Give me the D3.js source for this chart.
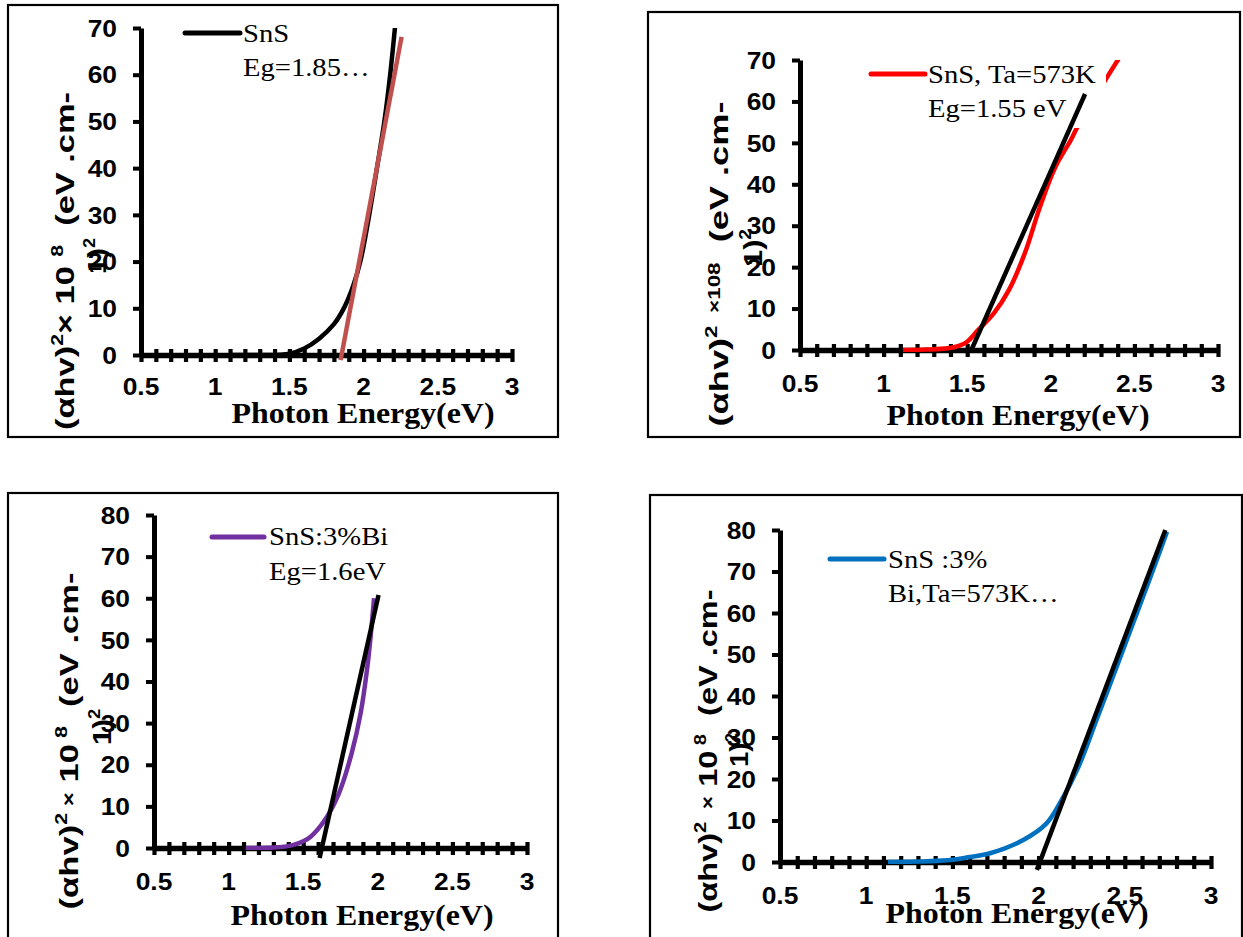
<!DOCTYPE html>
<html>
<head>
<meta charset="utf-8">
<script src="https://cdn.jsdelivr.net/npm/d3@7"></script>
<style>
  body { margin: 0; background: #fff; }
  svg { display: block; }
  text { white-space: pre; }
</style>
</head>
<body>
<svg id="chart" width="1243" height="937"></svg>
<script>
// ---- Tauc plots: (αhν)² ×10⁸ versus photon energy ----

// axis ticks
const energyTicks = [0.5, 1, 1.5, 2, 2.5, 3];
const energyMinorTicks = d3.range(5, 31).map(d => d / 10);
const alphaTicks70 = [0, 10, 20, 30, 40, 50, 60, 70];
const alphaTicks80 = [0, 10, 20, 30, 40, 50, 60, 70, 80];

// SnS as deposited
const snsEnergy = [1.1, 1.3, 1.5, 1.6, 1.7, 1.8, 1.87, 1.93, 1.98, 2.032, 2.088, 2.14, 2.178, 2.212];
const snsAlpha  = [0, 0, 0.3, 1.4, 3.5, 6.6, 10.2, 14.8, 20.3, 28.9, 39.6, 50, 59.7, 70.3];
const snsFitEnergy = [1.845, 2.256];
const snsFitAlpha  = [-1.1, 68.1];

// SnS annealed at 573 K
const snsTaEnergy = [1.116, 1.25, 1.385, 1.45, 1.5, 1.565, 1.66, 1.75, 1.845, 1.935, 2.025, 2.12, 2.155, 2.24, 2.327, 2.42];
const snsTaAlpha  = [0, 0.1, 0.4, 1, 2, 4.8, 8.9, 14.5, 23.4, 34.5, 44, 50.7, 53.5, 59.3, 65.2, 71.2];
const snsTaFitEnergy = [1.525, 2.205];
const snsTaFitAlpha  = [0, 61.8];

// SnS:3%Bi
const snsBiEnergy = [1.115, 1.3, 1.43, 1.5, 1.55, 1.645, 1.74, 1.825, 1.885, 1.93, 1.955, 1.975];
const snsBiAlpha  = [0, 0.1, 0.7, 1.6, 2.7, 6.7, 13.2, 22.8, 32.4, 43.5, 52, 60];
const snsBiFitEnergy = [1.61, 2.005];
const snsBiFitAlpha  = [-2.4, 60.8];

// SnS:3%Bi annealed at 573 K
const snsBiTaEnergy = [1.126, 1.3, 1.47, 1.6, 1.718, 1.911, 2.046, 2.133, 2.232, 2.336, 2.446, 2.555, 2.657, 2.745];
const snsBiTaAlpha  = [0, 0.1, 0.4, 1.2, 2.1, 5.3, 9.3, 14.9, 23, 34.2, 46.3, 58.3, 69.6, 79.6];
const snsBiTaFitEnergy = [1.99, 2.735];
const snsBiTaFitAlpha  = [-1.9, 80];

// legend entries
const legendTexts = [
  ["SnS", "Eg=1.85…"],
  ["SnS, Ta=573K", "Eg=1.55 eV"],
  ["SnS:3%Bi", "Eg=1.6eV"],
  ["SnS :3%", "Bi,Ta=573K…"]
];
const xTitle = "Photon Energy(eV)";

// y-axis title pieces: [text, relative size, raise in em]
const yTitles = [
  [["(αhv)", 1, 0], ["2", 0.62, 0.42], ["× 10 ", 1, 0], ["8", 0.62, 0.42], ["  (eV .cm-", 1, 0]],
  [["(αhv)", 1, 0], ["2", 0.62, 0.42], ["  ×108", 0.62, 0.3], ["  (eV .cm-", 1, 0]],
  [["(αhv)", 1, 0], ["2", 0.62, 0.42], [" ×", 0.7, 0.1], [" 10", 1, 0], [" 8", 0.62, 0.42], ["  (eV .cm-", 1, 0]],
  [["(αhv)", 1, 0], ["2", 0.62, 0.42], ["  ×", 0.7, 0.1], [" 10", 1, 0], [" 8", 0.62, 0.42], ["  (eV .cm-", 1, 0]]
];
const yTitleTail = [["1)", 1, 0], ["2", 0.62, 0.42]];

// ---- layout of the four panels ----
const panels = [
  {
    frame: [8, 5, 550, 432], px: [141, 512], py: [355, 28], yMax: 70, yTicks: alphaTicks70,
    energy: snsEnergy, alpha: snsAlpha, color: "#000000",
    fitE: snsFitEnergy, fitA: snsFitAlpha, fitColor: "#C0504D",
    legend: { box: [180, 14, 200, 76], line: [185, 240, 33], tx: 243, b1: 42, b2: 76 },
    xLabelBase: 395, xTitle: [363, 423],
    yTitle: [74, 261, 338], yTail: [106, 256]
  },
  {
    frame: [648, 12, 592, 425], px: [800, 1218], py: [350, 60], yMax: 70, yTicks: alphaTicks70,
    energy: snsTaEnergy, alpha: snsTaAlpha, color: "#FF0000",
    fitE: snsTaFitEnergy, fitA: snsTaFitAlpha, fitColor: "#000000",
    legend: { box: [862, 56, 244, 72], line: [871, 925, 74], tx: 928, b1: 83, b2: 117 },
    xLabelBase: 392, xTitle: [1018, 425],
    yTitle: [728, 264, 325], yTail: [762, 248]
  },
  {
    frame: [8, 493, 550, 460], px: [154, 527], py: [848, 515], yMax: 80, yTicks: alphaTicks80,
    energy: snsBiEnergy, alpha: snsBiAlpha, color: "#7030A0",
    fitE: snsBiFitEnergy, fitA: snsBiFitAlpha, fitColor: "#000000",
    legend: { box: [205, 518, 195, 72], line: [212, 264, 537], tx: 269, b1: 545, b2: 580 },
    xLabelBase: 890, xTitle: [362, 925],
    yTitle: [78, 741, 337], yTail: [111, 727]
  },
  {
    frame: [650, 495, 592, 460], px: [780, 1211], py: [862, 530], yMax: 80, yTicks: alphaTicks80,
    energy: snsBiTaEnergy, alpha: snsBiTaAlpha, color: "#0070C0",
    fitE: snsBiTaFitEnergy, fitA: snsBiTaFitAlpha, fitColor: "#000000",
    legend: { box: [824, 538, 230, 74], line: [830, 884, 559], tx: 888, b1: 568, b2: 602 },
    xLabelBase: 904, xTitle: [1017, 923],
    yTitle: [717, 751, 323], yTail: [748, 750]
  }
];

const STRETCH = 1.1;   // lettering is set slightly wide
const sansBold = "'Liberation Sans', Arial, sans-serif";
const serif = "'Liberation Serif', 'Times New Roman', serif";

const svg = d3.select("#chart");

// rotated axis title; stretched along its reading direction to the given length
function titleText(g, pieces, bx, cy, size, targetLen, fixedScale) {
  const t = g.append("text")
    .attr("text-anchor", "middle")
    .attr("font-family", sansBold)
    .attr("font-weight", "bold")
    .attr("font-size", size);
  let prevRaise = 0;
  pieces.forEach(([s, rel, raise]) => {
    const shift = -(raise - prevRaise) * size;
    t.append("tspan").attr("font-size", size * rel).attr("dy", shift).text(s);
    prevRaise = raise;
  });
  const w = t.node().getBBox().width;
  const k = fixedScale || (targetLen / w);
  t.attr("transform", `translate(${bx},${cy}) rotate(-90) scale(${k},1.05)`);
  return k;
}

panels.forEach((p, i) => {
  const g = svg.append("g");

  // chart frame
  g.append("rect")
    .attr("x", p.frame[0]).attr("y", p.frame[1])
    .attr("width", p.frame[2]).attr("height", p.frame[3])
    .attr("fill", "none").attr("stroke", "#000").attr("stroke-width", 2.2);

  const x = d3.scaleLinear().domain([0.5, 3]).range(p.px);
  const y = d3.scaleLinear().domain([0, p.yMax]).range(p.py);

  const clipId = "plot-clip-" + i;
  g.append("clipPath").attr("id", clipId).append("rect")
    .attr("x", p.px[0]).attr("y", y(p.yMax))
    .attr("width", p.px[1] - p.px[0] + 4)
    .attr("height", y(0) - y(p.yMax) + 2);

  // x axis with crossing ticks every 0.1 eV
  const gx = g.append("g")
    .attr("transform", `translate(0,${y(0)})`)
    .call(d3.axisBottom(x).tickValues(energyMinorTicks).tickSize(7).tickSizeOuter(0).tickFormat(""));
  gx.select(".domain").attr("stroke-width", 5.5);
  gx.selectAll(".tick line").attr("y1", -6).attr("y2", 7).attr("stroke-width", 4.2);

  // y axis
  const gy = g.append("g")
    .attr("transform", `translate(${x(0.5)},0)`)
    .call(d3.axisLeft(y).tickValues(p.yTicks).tickSize(8).tickSizeOuter(0).tickFormat(""));
  gy.select(".domain").attr("stroke-width", 5);
  gy.selectAll(".tick line").attr("stroke-width", 4);

  // tick labels
  g.selectAll(".xl").data(energyTicks).join("text")
    .attr("class", "xl")
    .attr("transform", d => `translate(${x(d)},${p.xLabelBase}) scale(${STRETCH},1)`)
    .attr("text-anchor", "middle")
    .attr("font-family", sansBold).attr("font-weight", "bold").attr("font-size", 24)
    .text(d => String(d));
  g.selectAll(".yl").data(p.yTicks).join("text")
    .attr("class", "yl")
    .attr("transform", d => `translate(${x(0.5) - 24},${y(d)}) scale(${STRETCH},1)`)
    .attr("text-anchor", "end").attr("dy", "0.36em")
    .attr("font-family", sansBold).attr("font-weight", "bold").attr("font-size", 24)
    .text(d => String(d));

  // measured curve
  const line = d3.line().x(d => x(d[0])).y(d => y(d[1])).curve(d3.curveCatmullRom.alpha(0.5));
  g.append("path")
    .datum(d3.zip(p.energy, p.alpha))
    .attr("clip-path", `url(#${clipId})`)
    .attr("fill", "none").attr("stroke", p.color)
    .attr("stroke-width", 4.5).attr("stroke-linejoin", "round")
    .attr("d", line);

  // legend
  const L = p.legend;
  g.append("rect")
    .attr("x", L.box[0]).attr("y", L.box[1]).attr("width", L.box[2]).attr("height", L.box[3])
    .attr("fill", "#fff");
  g.append("line")
    .attr("x1", L.line[0]).attr("x2", L.line[1]).attr("y1", L.line[2]).attr("y2", L.line[2])
    .attr("stroke", p.color).attr("stroke-width", 5).attr("stroke-linecap", "round");
  [[legendTexts[i][0], L.b1], [legendTexts[i][1], L.b2]].forEach(([s, b]) => {
    g.append("text")
      .attr("transform", `translate(${L.tx},${b}) scale(${STRETCH},1)`)
      .attr("font-family", serif).attr("font-size", 26)
      .text(s);
  });

  // linear extrapolation to the energy axis
  const fit = d3.line().x(d => x(d[0])).y(d => y(d[1]));
  g.append("path")
    .datum(d3.zip(p.fitE, p.fitA))
    .attr("fill", "none").attr("stroke", p.fitColor)
    .attr("stroke-width", 4.5).attr("stroke-linecap", "butt")
    .attr("d", fit);

  // axis titles
  g.append("text")
    .attr("transform", `translate(${p.xTitle[0]},${p.xTitle[1]}) scale(${STRETCH},1)`)
    .attr("text-anchor", "middle")
    .attr("font-family", serif).attr("font-weight", "bold").attr("font-size", 29)
    .text(xTitle);

  const k = titleText(g, yTitles[i], p.yTitle[0], p.yTitle[1], 24, p.yTitle[2]);
  titleText(g, yTitleTail, p.yTail[0], p.yTail[1], 24, 0, k * 0.85);
});
</script>
</body>
</html>
